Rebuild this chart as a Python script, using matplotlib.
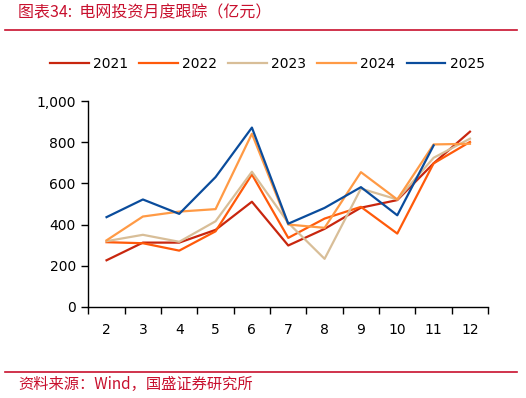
import numpy as np
import matplotlib.pyplot as plt

plt.rcParams['font.family'] = ['DejaVu Sans', 'Noto Sans CJK SC']

months = [2, 3, 4, 5, 6, 7, 8, 9, 10, 11, 12]
labels = ['2021', '2022', '2023', '2024', '2025']

y2021 = [226, 312, 312, 374, 511, 298, 379, 482, 519, 698, 852]
y2022 = [314, 309, 273, 367, 644, 335, 429, 486, 356, 698, 802]
y2023 = [319, 350, 316, 416, 657, 408, 233, 575, 522, 725, 818]
y2024 = [323, 439, 463, 475, 842, 400, 384, 655, 522, 790, 793]
y2025 = [436, 522, 452, 631, 872, 404, 481, 582, 445, 785]

colors = ['#C8260E', '#FF5A0A', '#D8BE98', '#FF9A45', '#0A4C9C']
series = [y2021, y2022, y2023, y2024, y2025]

red = '#C8102E'

fig = plt.figure(figsize=(5.26, 3.98), dpi=100)
ax = fig.add_axes([0.168, 0.2294, 0.76, 0.5161])

x = np.arange(len(months))
for vals, c, lab in zip(series, colors, labels):
    ax.plot(x[:len(vals)], vals, color=c, lw=1.6, label=lab)

ax.set_xlim(-0.5, len(months) - 0.5)
ax.set_ylim(0, 1000)
ax.set_xticks(np.arange(-0.5, len(months), 1))
ax.set_xticklabels([])
ax.set_xticks(x, minor=True)
ax.set_xticklabels([str(m) for m in months], minor=True, fontsize=10)
ax.tick_params(axis='x', which='minor', length=0, pad=12)
ax.tick_params(axis='x', which='major', length=5, width=1)
ax.set_yticks(range(0, 1001, 200))
ax.set_yticklabels([f'{v:,}' for v in range(0, 1001, 200)], fontsize=10)
ax.tick_params(axis='y', length=5, width=1, pad=4)
for s in ['top', 'right']:
    ax.spines[s].set_visible(False)
for s in ['left', 'bottom']:
    ax.spines[s].set_linewidth(1)

fig.legend(loc='center', bbox_to_anchor=(0.508, 1 - 64 / 398), ncol=5, frameon=False,
           fontsize=10, handlelength=2.8, columnspacing=0.8, handletextpad=0.3)

# title and source
fig.text(18 / 526, 1 - 13 / 398, '图表34:  电网投资月度跟踪（亿元）', color=red, fontsize=11.5,
         family=['Noto Sans CJK SC'], ha='left', va='center', style='italic')
fig.add_artist(plt.Line2D([5 / 526, 517 / 526], [1 - 30 / 398] * 2, color=red, lw=1.2))
fig.add_artist(plt.Line2D([5 / 526, 517 / 526], [1 - 372 / 398] * 2, color=red, lw=1.2))
fig.text(18 / 526, 1 - 384 / 398, '资料来源：Wind，国盛证券研究所', color=red, fontsize=11,
         family=['Noto Sans CJK SC'], ha='left', va='center', style='italic')

fig.savefig('out.png', dpi=100)
